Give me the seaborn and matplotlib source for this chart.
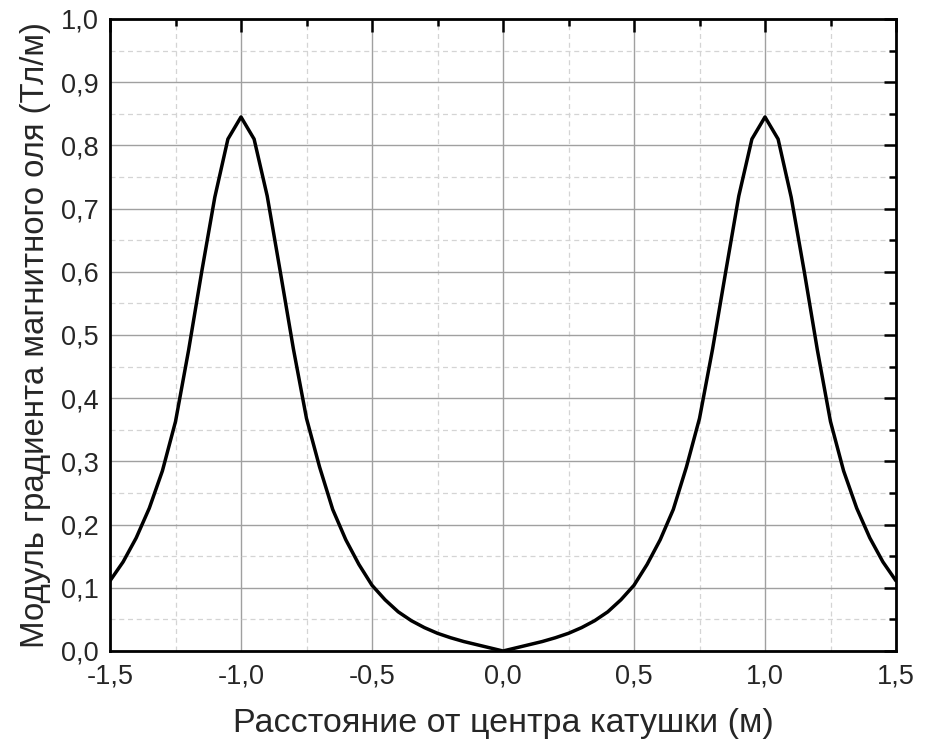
import numpy as np
import pandas as pd
import matplotlib
matplotlib.use("Agg")
import matplotlib.pyplot as plt
import seaborn as sns
from matplotlib.ticker import MultipleLocator, FuncFormatter

sns.set_style("white")
plt.rcParams["font.family"] = ["Liberation Sans", "DejaVu Sans"]
plt.rcParams["axes.unicode_minus"] = False

# --- data ---
distance_m = [
    -1.50, -1.45, -1.40, -1.35, -1.30, -1.25, -1.20, -1.15, -1.10, -1.05,
    -1.00, -0.95, -0.90, -0.85, -0.80, -0.75, -0.70, -0.65, -0.60, -0.55,
    -0.50, -0.45, -0.40, -0.35, -0.30, -0.25, -0.20, -0.15, -0.10, -0.05,
    0.00, 0.05, 0.10, 0.15, 0.20, 0.25, 0.30, 0.35, 0.40, 0.45,
    0.50, 0.55, 0.60, 0.65, 0.70, 0.75, 0.80, 0.85, 0.90, 0.95,
    1.00, 1.05, 1.10, 1.15, 1.20, 1.25, 1.30, 1.35, 1.40, 1.45, 1.50,
]
gradient_t_per_m = [
    0.111, 0.141, 0.179, 0.226, 0.285, 0.363, 0.476, 0.600, 0.718, 0.810,
    0.845, 0.810, 0.720, 0.600, 0.478, 0.368, 0.291, 0.224, 0.176, 0.137,
    0.104, 0.081, 0.062, 0.048, 0.037, 0.028, 0.021, 0.015, 0.010, 0.005,
    0.000, 0.005, 0.010, 0.015, 0.021, 0.028, 0.037, 0.048, 0.062, 0.081,
    0.104, 0.137, 0.176, 0.224, 0.291, 0.368, 0.478, 0.600, 0.720, 0.810,
    0.845, 0.810, 0.718, 0.600, 0.476, 0.363, 0.285, 0.226, 0.179, 0.141, 0.111,
]
df = pd.DataFrame({"x": distance_m, "y": gradient_t_per_m})

fig = plt.figure(figsize=(9.36, 7.44), dpi=100)
ax = fig.add_axes([110 / 936, 93 / 744, 786 / 936, 632 / 744])

sns.lineplot(data=df, x="x", y="y", color="black", linewidth=2.5, ax=ax, zorder=5)

ax.set_xlim(-1.5, 1.5)
ax.set_ylim(0, 1.0)
ax.xaxis.set_major_locator(MultipleLocator(0.5))
ax.xaxis.set_minor_locator(MultipleLocator(0.25))
ax.yaxis.set_major_locator(MultipleLocator(0.1))
ax.yaxis.set_minor_locator(MultipleLocator(0.05))
comma = FuncFormatter(lambda v, p: f"{v:.1f}".replace(".", ","))
ax.xaxis.set_major_formatter(comma)
ax.yaxis.set_major_formatter(comma)

ax.grid(which="major", color="#a0a0a0", linewidth=1.0, linestyle="-")
ax.grid(which="minor", color="#d4d4d4", linewidth=0.9, linestyle=(0, (4, 3)))
ax.set_axisbelow(True)

ax.tick_params(which="both", direction="in", top=True, right=True,
               color="black", width=1.8)
ax.tick_params(which="major", length=9, labelsize=19.5)
ax.tick_params(axis="y", which="major", pad=8)
ax.tick_params(axis="x", which="major", pad=9)
ax.tick_params(which="minor", length=5)
for s in ax.spines.values():
    s.set_color("black")
    s.set_linewidth(2.0)

ax.set_xlabel("Расстояние от центра катушки (м)", fontsize=24.5, labelpad=13)
ax.set_ylabel("Модуль градиента магнитного оля (Тл/м)", fontsize=23.8, labelpad=7)

plt.savefig("out.png", dpi=100)
plt.close()
